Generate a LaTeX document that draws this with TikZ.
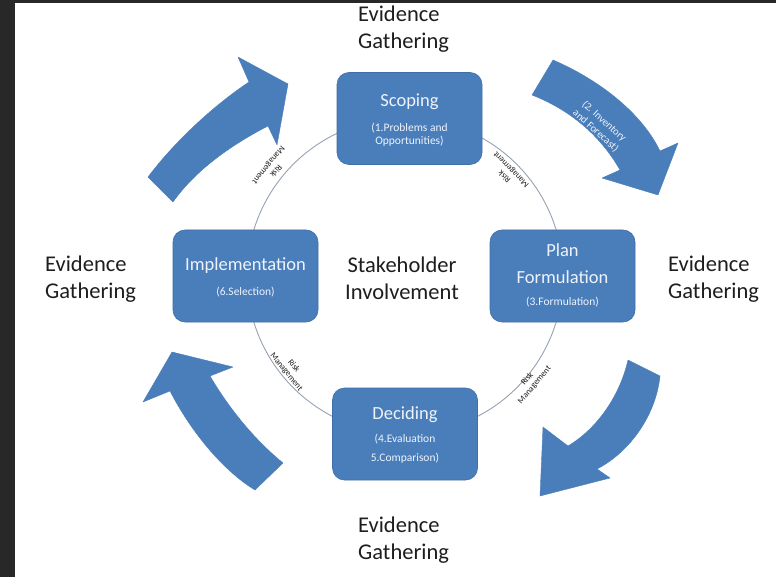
\documentclass[tikz,border=0pt]{standalone}
\usepackage{fontspec}
\setmainfont{Carlito}
\definecolor{stageblue}{RGB}{74,126,187}
\definecolor{stageedge}{RGB}{64,110,166}
\definecolor{ringgray}{RGB}{150,162,178}
\definecolor{frame}{RGB}{40,40,40}
\definecolor{boxtext}{RGB}{238,243,250}
\definecolor{ink}{RGB}{30,30,30}
\begin{document}
\begin{tikzpicture}[x=1pt,y=-1pt,
  stage/.style={rounded corners=12pt, fill=stageblue, draw=stageedge, line width=0.6pt,
    minimum width=145pt, minimum height=92pt, inner sep=0pt},
  bigarrow/.style={fill=stageblue, draw=stageblue, line width=0.4pt, line join=round},
  ring/.style={draw=ringgray, line width=0.9pt},
  titletext/.style={text=boxtext, font=\fontsize{18.5}{22}\selectfont, inner sep=0pt},
  subtext/.style={text=boxtext, font=\fontsize{11.5}{13}\selectfont, inner sep=0pt, align=center},
  bigtext/.style={text=ink, font=\fontsize{22.5}{27}\selectfont, inner sep=0pt, align=left},
  risktext/.style={text=ink, font=\fontsize{8.5}{9.5}\selectfont, inner sep=0pt, align=center}]

% page: dark frame on the left and top, white canvas
\fill[frame] (0,0) rectangle (776,577);
\fill[white] (15,3) rectangle (776,577);
\useasboundingbox (0,0) rectangle (776,577);

% curved block arrows, running clockwise
\fill[bigarrow] (148,177) .. controls (172,145) and (210,108) .. (249,82)
  -- (238,57) -- (288,84) -- (277,145) -- (268,126)
  .. controls (235,143) and (197,168) .. (173,202) -- cycle;
\fill[bigarrow] (553,60) .. controls (595,78) and (640,110) .. (660,151)
  -- (678,143) -- (658,195) -- (602,178) -- (620,170)
  .. controls (600,135) and (570,110) .. (532,95) -- cycle;
\fill[bigarrow] (660,376) .. controls (656,415) and (630,452) .. (597,469)
  -- (610,478) -- (540,496) -- (543,427) -- (568,446)
  .. controls (598,428) and (620,395) .. (628,360) -- cycle;
\fill[bigarrow] (255,490) .. controls (222,470) and (190,430) .. (170,391)
  -- (143,402) -- (172,352) -- (233,367) -- (210,376)
  .. controls (230,410) and (255,440) .. (283,463) -- cycle;

\node[text=boxtext, font=\fontsize{10.5}{12.5}\selectfont, align=center, rotate=-42, inner sep=0pt]
  (invtext) at (600,126) {(2. Inventory\\and Forecast)};

% the cycle ring
\draw[ring] (405,276) circle[radius=158];

% stages
\node[stage] (scope) at (409.5,118.5) {};
\node[stage] (plan) at (562.5,276) {};
\node[stage] (decide) at (405,434) {};
\node[stage] (impl) at (245.5,276) {};

\node[titletext] (scopeT) at (409.5,102) {Scoping};
\node[subtext] (scopeS) at (409.5,135) {(1.Problems and\\Opportunities)};
\node[titletext] (planT1) at (562.5,250) {Plan};
\node[titletext] (planT2) at (562.5,277) {Formulation};
\node[subtext] (planS) at (562.5,302) {(3.Formulation)};
\node[titletext] (decideT) at (405,415) {Deciding};
\node[subtext] (decideS1) at (405,439) {(4.Evaluation};
\node[subtext] (decideS2) at (405,458) {5.Comparison)};
\node[titletext] (implT) at (245.5,266) {Implementation};
\node[subtext] (implS) at (245.5,292) {(6.Selection)};

\node[bigtext, align=center] (center) at (402,278) {Stakeholder\\Involvement};

% evidence gathering labels
\node[bigtext, anchor=west] (egTop) at (358,29) {Evidence\\Gathering};
\node[bigtext, anchor=west] (egRight) at (668,279) {Evidence\\Gathering};
\node[bigtext, anchor=west] (egLeft) at (45,279) {Evidence\\Gathering};
\node[bigtext, anchor=west] (egBottom) at (358,540) {Evidence\\Gathering};

% risk management labels beside the ring
\node[risktext, rotate=135] (rmUR) at (508,173) {Risk\\Management};
\node[risktext, rotate=231] (rmUL) at (272,168) {Risk\\Management};
\node[risktext, rotate=-51] (rmLL) at (290,369) {Risk\\Management};
\node[risktext, rotate=50] (rmLR) at (531,382) {Risk\\Management};
\end{tikzpicture}
\end{document}
